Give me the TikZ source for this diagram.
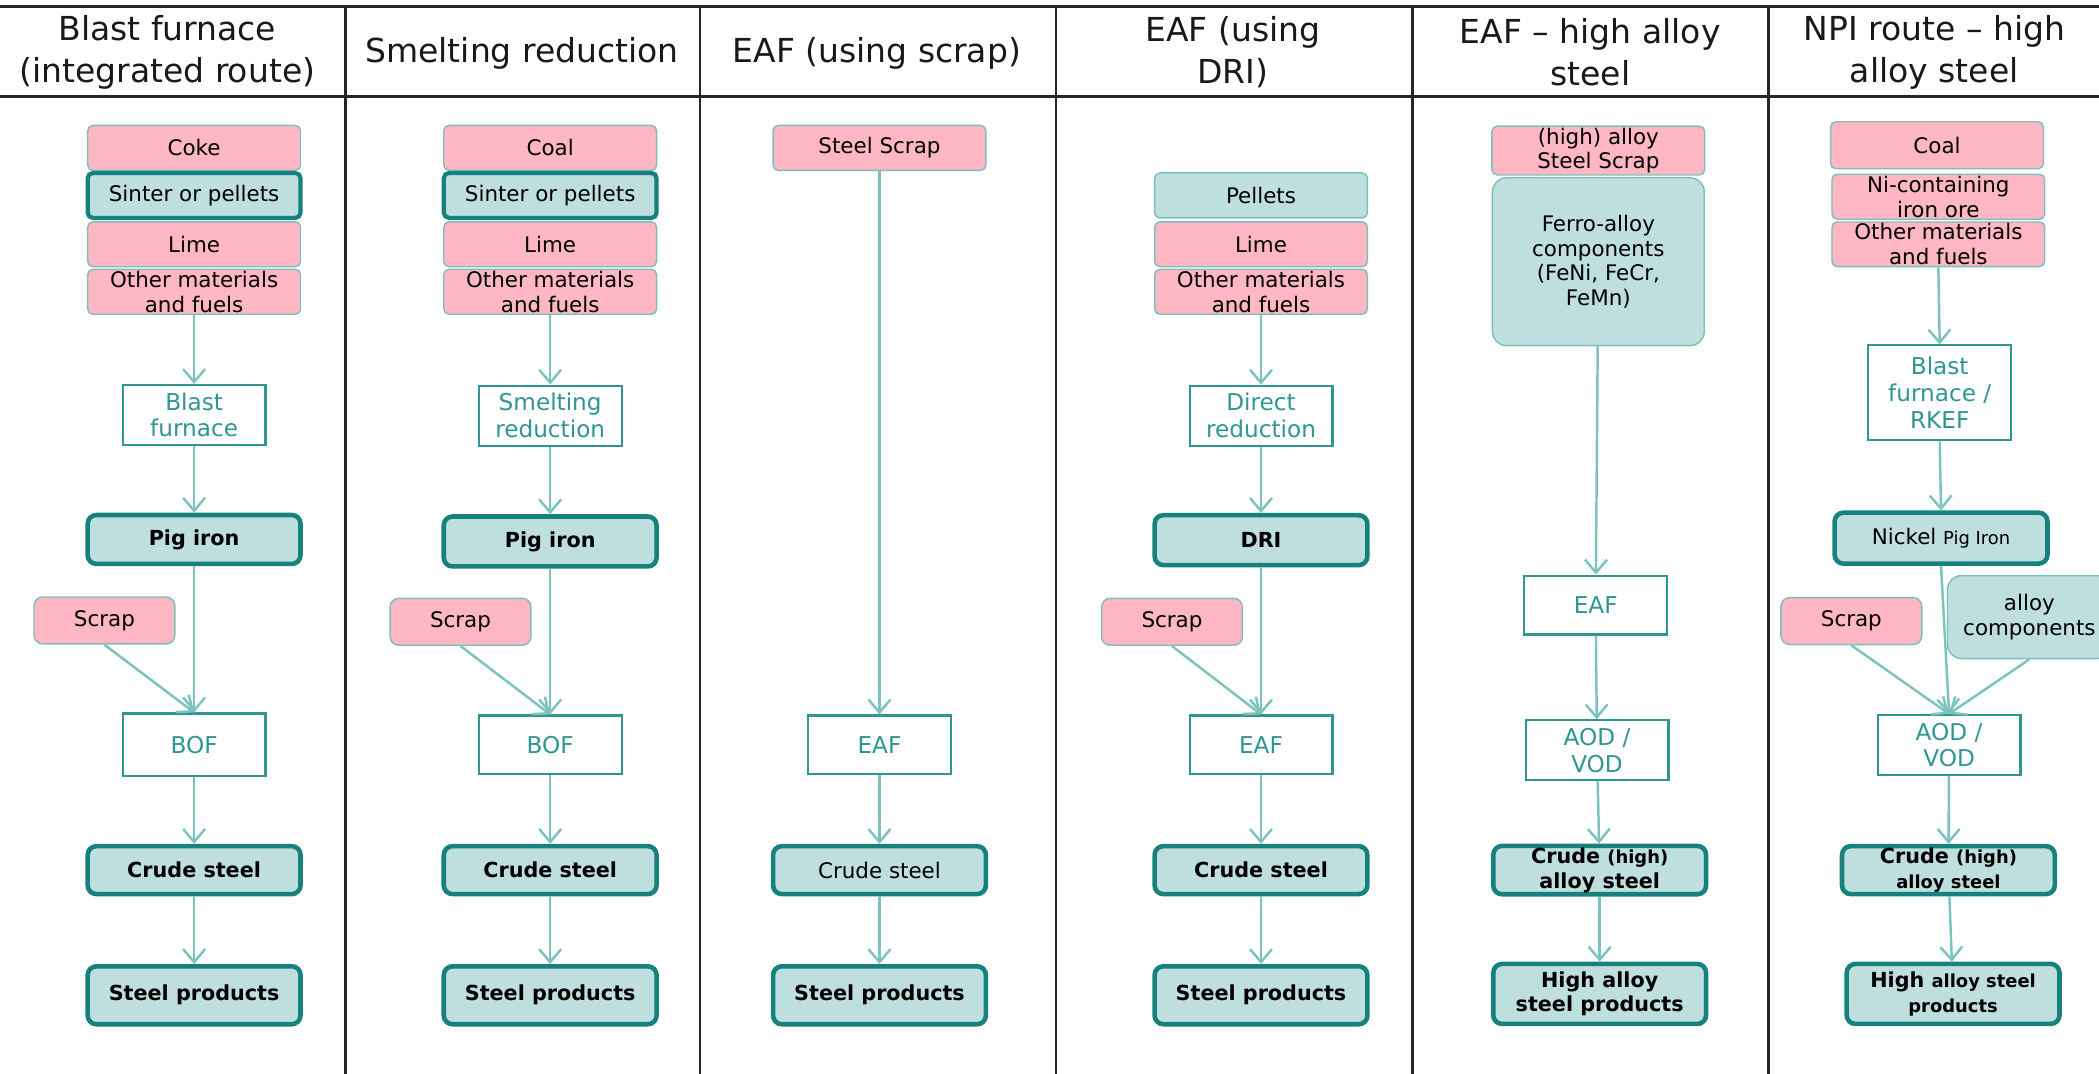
\documentclass[tikz,border=0pt]{standalone}
\usepackage{fontspec}
\setmainfont{DejaVu Sans}
\usetikzlibrary{arrows.meta}
\definecolor{pinkfill}{HTML}{FFB8C3}
\definecolor{tealfill}{HTML}{BEDFDD}
\definecolor{tealdark}{HTML}{16817D}
\definecolor{tealmid}{HTML}{2F9690}
\definecolor{tealthin}{HTML}{7BBFBB}
\definecolor{flowcol}{HTML}{7CC3BF}
\newcommand\boxfont{\fontsize{6.1}{7}\selectfont}
\newcommand\boldfont{\fontsize{5.9}{7}\selectfont\bfseries}
\newcommand\smallfont{\fontsize{5.1}{6.4}\selectfont}
\newcommand\procfont{\fontsize{6.6}{7.6}\selectfont}
\newcommand\headfont{\fontsize{9.4}{11.8}\selectfont}
\begin{document}
\begin{tikzpicture}[x=0.0134cm, y=-0.0134cm,
    rule/.style={draw=black!85, line width=0.7pt},
    head/.style={align=center, font=\headfont, text=black!90, inner sep=0pt},
    feed/.style={draw=tealthin, fill=pinkfill, line width=0.4pt, rounded corners=1.5pt,
      minimum width=2.13cm, minimum height=0.45cm, inner sep=0.5pt, align=center, font=\boxfont},
    feedteal/.style={feed, fill=tealfill},
    feedthick/.style={feed, fill=tealfill, draw=tealdark, line width=1.2pt},
    prod/.style={draw=tealdark, fill=tealfill, line width=1.3pt, rounded corners=2.5pt,
      minimum width=2.13cm, minimum height=0.48cm, inner sep=0.5pt, align=center, font=\boldfont},
    proc/.style={draw=tealmid, fill=white, line width=0.6pt, minimum width=1.43cm,
      minimum height=0.6cm, inner sep=0.5pt, align=center, text=tealmid, font=\procfont},
    scrapbox/.style={feed, minimum width=1.41cm, minimum height=0.47cm, rounded corners=2.5pt},
    flow/.style={draw=flowcol, line width=0.7pt, -{Straight Barb[length=1.3mm, width=2.2mm]}}]
  \useasboundingbox (0,0) rectangle (1568,802);
  \clip (0,0) rectangle (1568,802);
  \draw[rule] (0,5) -- (1568,5);
  \draw[rule] (0,72) -- (1568,72);
  \foreach \x in {258,523,789,1055,1321}
    \draw[rule] (\x,5) -- (\x,802);

  \node[head] (h1) at (125,39) {Blast furnace\\(integrated route)};
  \node[head] (h2) at (390,40) {Smelting reduction};
  \node[head] (h3) at (655,40) {EAF (using scrap)};
  \node[head] (h4) at (921,39) {EAF (using\\DRI)};
  \node[head] (h5) at (1188,39) {EAF -- high alloy\\steel};
  \node[head] (h6) at (1445,39) {NPI route -- high\\alloy steel};

  \node[feed] (coke1) at (145,110.5) {Coke};
  \node[feedthick] (sinter1) at (145,146) {Sinter or pellets};
  \node[feed] (lime1) at (145,182.5) {Lime};
  \node[feed] (other1) at (145,218) {Other materials\\and fuels};
  \node[proc] (furnace1) at (145,310) {Blast\\furnace};
  \node[prod, minimum height=0.49cm] (pig1) at (145,403) {Pig iron};
  \node[scrapbox] (scrap1) at (78,463.5) {Scrap};
  \node[proc, minimum height=0.63cm] (bof1) at (145,556.5) {BOF};
  \node[prod] (crude1) at (145,650) {Crude steel};
  \node[prod, minimum height=0.58cm] (prod1) at (145,743.5) {Steel products};
  \draw[flow] (other1) -- (furnace1);
  \draw[flow] (furnace1) -- (pig1);
  \draw[flow] (pig1) -- (bof1);
  \draw[flow] (scrap1.south) -- (bof1.north);
  \draw[flow] (bof1) -- (crude1);
  \draw[flow] (crude1) -- (prod1);

  \node[feed] (coal2) at (411,110.5) {Coal};
  \node[feedthick] (sinter2) at (411,146) {Sinter or pellets};
  \node[feed] (lime2) at (411,182.5) {Lime};
  \node[feed] (other2) at (411,218) {Other materials\\and fuels};
  \node[proc] (smelt2) at (411,310.5) {Smelting\\reduction};
  \node[prod, minimum height=0.5cm] (pig2) at (411,404.5) {Pig iron};
  \node[scrapbox] (scrap2) at (344,464.5) {Scrap};
  \node[proc, minimum height=0.59cm] (bof2) at (411,556.5) {BOF};
  \node[prod] (crude2) at (411,650) {Crude steel};
  \node[prod, minimum height=0.58cm] (prod2) at (411,743.5) {Steel products};
  \draw[flow] (other2) -- (smelt2);
  \draw[flow] (smelt2) -- (pig2);
  \draw[flow] (pig2) -- (bof2);
  \draw[flow] (scrap2.south) -- (bof2.north);
  \draw[flow] (bof2) -- (crude2);
  \draw[flow] (crude2) -- (prod2);

  \node[feed] (steelscrap3) at (657,110.5) {Steel Scrap};
  \node[proc, minimum height=0.59cm] (eaf3) at (657,556.5) {EAF};
  \node[prod, font=\boxfont] (crude3) at (657,650) {Crude steel};
  \node[prod, minimum height=0.58cm] (prod3) at (657,743.5) {Steel products};
  \draw[flow] (steelscrap3) -- (eaf3);
  \draw[flow] (eaf3) -- (crude3);
  \draw[flow] (crude3) -- (prod3);

  \node[feedteal] (pellets4) at (942,146) {Pellets};
  \node[feed] (lime4) at (942,182.5) {Lime};
  \node[feed] (other4) at (942,218) {Other materials\\and fuels};
  \node[proc] (direct4) at (942,310.5) {Direct\\reduction};
  \node[prod, minimum height=0.5cm] (dri4) at (942,403.5) {DRI};
  \node[scrapbox] (scrap4) at (875.5,464.5) {Scrap};
  \node[proc, minimum height=0.59cm] (eaf4) at (942,556.5) {EAF};
  \node[prod] (crude4) at (942,650) {Crude steel};
  \node[prod, minimum height=0.58cm] (prod4) at (942,743.5) {Steel products};
  \draw[flow] (other4) -- (direct4);
  \draw[flow] (direct4) -- (dri4);
  \draw[flow] (dri4) -- (eaf4);
  \draw[flow] (scrap4.south) -- (eaf4.north);
  \draw[flow] (eaf4) -- (crude4);
  \draw[flow] (crude4) -- (prod4);

  \node[feed, minimum height=0.47cm] (alloyscrap5) at (1194,112.5) {(high) alloy\\Steel Scrap};
  \node[feedteal, rounded corners=4pt, minimum height=1.68cm, minimum width=2.12cm] (ferro5) at (1194,195.5)
    {Ferro-alloy\\components\\(FeNi, FeCr,\\FeMn)};
  \node[proc, minimum height=0.59cm] (eaf5) at (1192,452) {EAF};
  \node[proc, minimum height=0.6cm] (aod5) at (1193,560.5) {AOD /\\VOD};
  \node[prod] (crude5) at (1195,650) {Crude {\smallfont(high)}\\alloy steel};
  \node[prod, minimum height=0.6cm] (prod5) at (1195,742.5) {High alloy\\steel products};
  \draw[flow] (ferro5) -- (eaf5);
  \draw[flow] (eaf5) -- (aod5);
  \draw[flow] (aod5) -- (crude5);
  \draw[flow] (crude5) -- (prod5);

  \node[feed, minimum height=0.47cm] (coal6) at (1447,108.5) {Coal};
  \node[feed] (ore6) at (1448,147) {Ni-containing\\iron ore};
  \node[feed, minimum height=0.44cm] (other6) at (1448,182.5) {Other materials\\and fuels};
  \node[proc, minimum height=0.95cm] (rkef6) at (1449,293.5) {Blast\\furnace /\\RKEF};
  \node[prod, minimum height=0.51cm, font=\boxfont] (npi6) at (1450,402) {Nickel {\smallfont Pig Iron}};
  \node[scrapbox] (scrap6) at (1383,464) {Scrap};
  \node[feedteal, rounded corners=4pt, minimum width=1.64cm, minimum height=0.83cm] (alloy6) at (1516,461)
    {alloy\\components};
  \node[proc, minimum height=0.6cm] (aod6) at (1456,556.5) {AOD /\\VOD};
  \node[prod] (crude6) at (1455.5,650) {Crude {\smallfont(high)}\\{\smallfont alloy steel}};
  \node[prod, minimum height=0.6cm] (prod6) at (1459,742.5) {High {\smallfont alloy steel}\\{\smallfont products}};
  \draw[flow] (other6.south) -- (rkef6.north);
  \draw[flow] (rkef6.south) -- (npi6.north);
  \draw[flow] (npi6.south) -- (aod6.north);
  \draw[flow] (scrap6.south) -- (aod6.north);
  \draw[flow] (alloy6.south) -- (aod6.north);
  \draw[flow] (aod6) -- (crude6);
  \draw[flow] (crude6) -- (prod6);
\end{tikzpicture}
\end{document}
